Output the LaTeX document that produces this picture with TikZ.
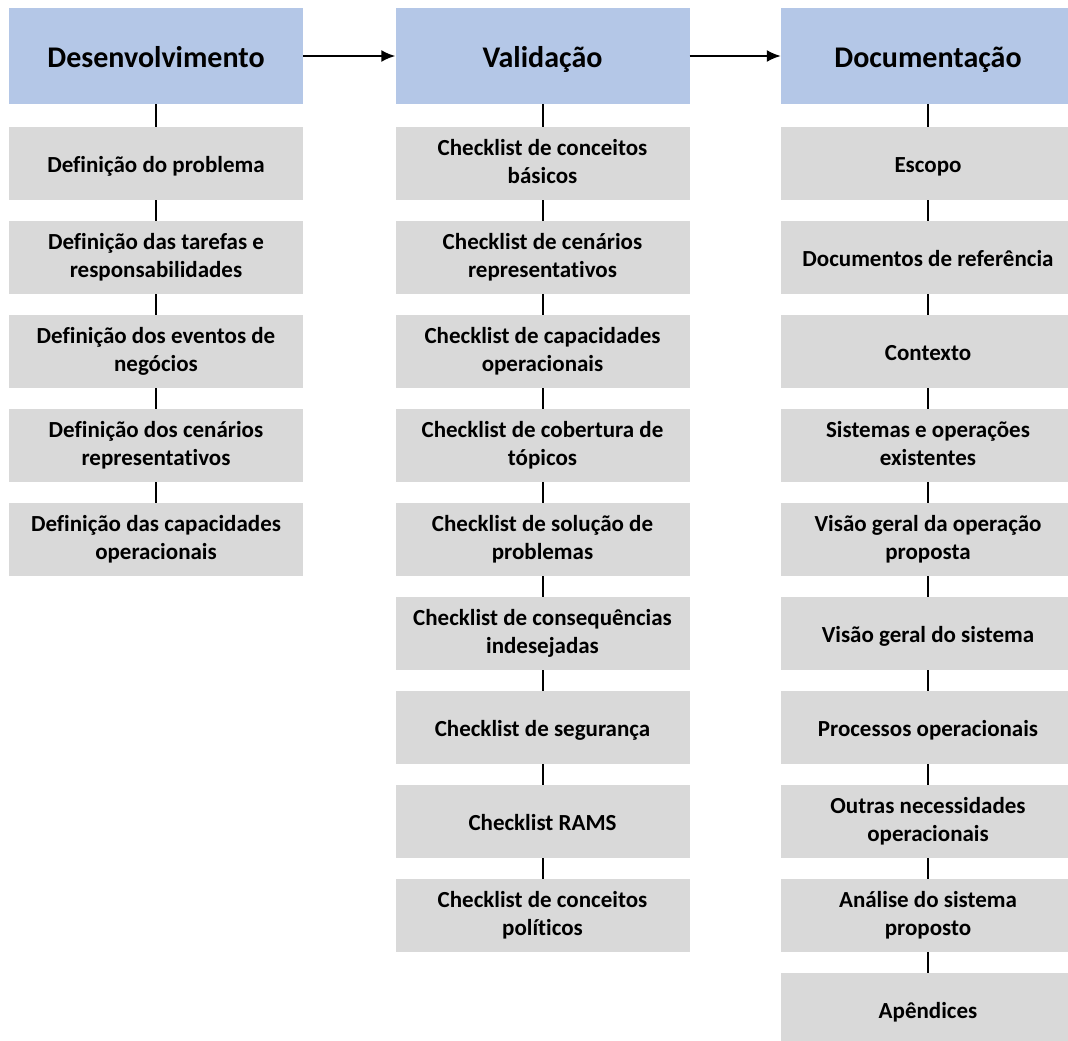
\documentclass[tikz,border=0pt]{standalone}
\usepackage{fontspec}
\setmainfont{Carlito}[Ligatures=NoCommon]
\usetikzlibrary{arrows.meta}
\definecolor{headblue}{RGB}{180,199,231}
\definecolor{itemgray}{RGB}{217,217,217}
\newcommand{\headstrut}{\rule[-7pt]{0pt}{36pt}}
\newcommand{\itemtop}{\rule{0pt}{23pt}}
\newcommand{\itembot}{\rule[-5pt]{0pt}{5pt}}

\begin{document}
\begin{tikzpicture}[>={Latex[length=14pt, width=12pt]}, x=1pt, y=-1pt]
    \tikzstyle{head}=[fill=headblue, minimum width=294pt, minimum height=96pt,
      font=\fontsize{30}{36}\selectfont\bfseries,
      execute at begin node=\headstrut]
    \tikzstyle{item}=[fill=itemgray, minimum width=294pt, minimum height=73pt,
      align=center, font=\fontsize{23}{28}\selectfont\bfseries,
      execute at begin node=\itemtop, execute at end node=\itembot]
    \tikzstyle{link}=[line width=2pt]
    \useasboundingbox (0,0) rectangle (1068,1041);

    % headers
    \draw (156,56)   node[head] (Dev) {Desenvolvimento};
    \draw (542.5,56) node[head] (Val) {Validação};
    \draw (928,56)   node[head] (Doc) {Documentação};
    \draw[->, link] (Dev.east) -- (Val.west);
    \draw[->, link] (Val.east) -- (Doc.west);

    % Desenvolvimento
    \draw (156,163.5) node[item] (Dev1) {Definição do problema};
    \draw (156,257.5) node[item] (Dev2) {Definição das tarefas e\\responsabilidades};
    \draw (156,351.5) node[item] (Dev3) {Definição dos eventos de\\negócios};
    \draw (156,445.5) node[item] (Dev4) {Definição dos cenários\\representativos};
    \draw (156,539.5) node[item] (Dev5) {Definição das capacidades\\operacionais};
    \draw[link] (Dev) -- (Dev1);
    \draw[link] (Dev1) -- (Dev2);
    \draw[link] (Dev2) -- (Dev3);
    \draw[link] (Dev3) -- (Dev4);
    \draw[link] (Dev4) -- (Dev5);

    % Validação
    \draw (542.5,163.5) node[item] (Val1) {Checklist de conceitos\\básicos};
    \draw (542.5,257.5) node[item] (Val2) {Checklist de cenários\\representativos};
    \draw (542.5,351.5) node[item] (Val3) {Checklist de capacidades\\operacionais};
    \draw (542.5,445.5) node[item] (Val4) {Checklist de cobertura de\\tópicos};
    \draw (542.5,539.5) node[item] (Val5) {Checklist de solução de\\problemas};
    \draw (542.5,633.5) node[item] (Val6) {Checklist de consequências\\indesejadas};
    \draw (542.5,727.5) node[item] (Val7) {Checklist de segurança};
    \draw (542.5,821.5) node[item] (Val8) {Checklist RAMS};
    \draw (542.5,915.5) node[item] (Val9) {Checklist de conceitos\\políticos};
    \draw[link] (Val) -- (Val1);
    \draw[link] (Val1) -- (Val2);
    \draw[link] (Val2) -- (Val3);
    \draw[link] (Val3) -- (Val4);
    \draw[link] (Val4) -- (Val5);
    \draw[link] (Val5) -- (Val6);
    \draw[link] (Val6) -- (Val7);
    \draw[link] (Val7) -- (Val8);
    \draw[link] (Val8) -- (Val9);

    % Documentação
    \draw (928,163.5)  node[item] (Doc1) {Escopo};
    \draw (928,257.5)  node[item] (Doc2) {Documentos de referência};
    \draw (928,351.5)  node[item] (Doc3) {Contexto};
    \draw (928,445.5)  node[item] (Doc4) {Sistemas e operações\\existentes};
    \draw (928,539.5)  node[item] (Doc5) {Visão geral da operação\\proposta};
    \draw (928,633.5)  node[item] (Doc6) {Visão geral do sistema};
    \draw (928,727.5)  node[item] (Doc7) {Processos operacionais};
    \draw (928,821.5)  node[item] (Doc8) {Outras necessidades\\operacionais};
    \draw (928,915.5)  node[item] (Doc9) {Análise do sistema\\proposto};
    \draw (928,1009.5) node[item] (Doc10) {Apêndices};
    \draw[link] (Doc) -- (Doc1);
    \draw[link] (Doc1) -- (Doc2);
    \draw[link] (Doc2) -- (Doc3);
    \draw[link] (Doc3) -- (Doc4);
    \draw[link] (Doc4) -- (Doc5);
    \draw[link] (Doc5) -- (Doc6);
    \draw[link] (Doc6) -- (Doc7);
    \draw[link] (Doc7) -- (Doc8);
    \draw[link] (Doc8) -- (Doc9);
    \draw[link] (Doc9) -- (Doc10);
  \end{tikzpicture}
\end{document}
